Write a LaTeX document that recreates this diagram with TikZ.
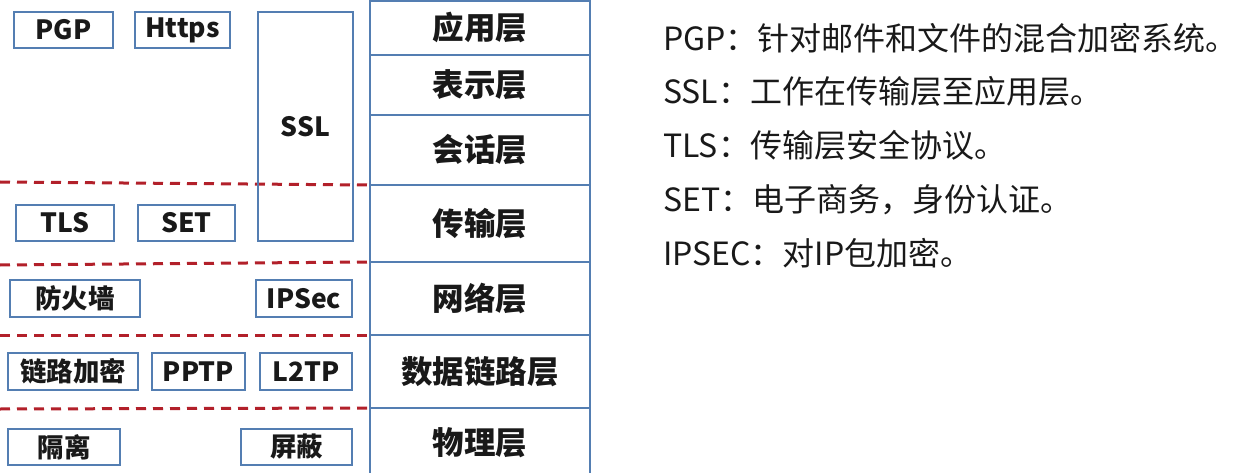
\documentclass[tikz,border=0pt]{standalone}
\usepackage{fontspec}
\setmainfont{Noto Sans CJK SC}
\usepackage{xcolor}
\usetikzlibrary{positioning}
\definecolor{boxblue}{RGB}{84,126,178}
\definecolor{dashred}{RGB}{178,32,42}
\definecolor{inkgray}{RGB}{25,25,25}

\begin{document}
\begin{tikzpicture}[x=1pt, y=-1pt,
    tagbox/.style={draw=boxblue, line width=1.8pt, inner sep=0pt,
      font=\fontsize{26.5}{28}\selectfont\bfseries, text=inkgray},
    layer/.style={draw=boxblue, line width=1.8pt, minimum width=220pt, inner sep=0pt,
      outer sep=0pt, font=\fontsize{31.5}{34}\selectfont\bfseries, text=inkgray},
    divider/.style={draw=dashred, line width=3pt, dash pattern=on 10pt off 7pt},
    note/.style={anchor=west, inner sep=0pt, font=\fontsize{32}{35}\selectfont, text=inkgray}]
  \useasboundingbox (0,0) rectangle (1242,473);
  \clip (0,0) rectangle (1242,473);
  % OSI layers
  \node[layer, minimum height=54pt, anchor=north] (app) at (480,1) {应用层};
  \node[layer, minimum height=60pt, below=0pt of app] (pres) {表示层};
  \node[layer, minimum height=70pt, below=0pt of pres] (sess) {会话层};
  \node[layer, minimum height=77pt, below=0pt of sess] (trans) {传输层};
  \node[layer, minimum height=73pt, below=0pt of trans] (net) {网络层};
  \node[layer, minimum height=73pt, below=0pt of net] (link) {数据链路层};
  \node[layer, minimum height=70pt, below=0pt of link] (phys) {物理层};
  % dashed dividers
  \coordinate (d1) at (0,182);
  \coordinate (d2) at (0,265);
  \coordinate (d3) at (0,335);
  \coordinate (d4) at (0,409);
  \draw[divider] (d1) -- (trans.north west);
  \draw[divider] (d2) -- (net.north west);
  \draw[divider] (d3) -- (link.north west);
  \draw[divider] (d4) -- (phys.north west);
  % protocols
  \node[tagbox, minimum width=99pt, minimum height=36pt] (pgp) at (63.5,30) {PGP};
  \node[tagbox, minimum width=95pt, minimum height=36pt] (https) at (182.5,30) {Https};
  \node[tagbox, minimum width=95pt, minimum height=229pt] (ssl) at (305.5,126.5) {SSL};
  \node[tagbox, minimum width=98pt, minimum height=36pt] (tls) at (65,223) {TLS};
  \node[tagbox, minimum width=97pt, minimum height=36pt] (set) at (186.5,223) {SET};
  \node[tagbox, minimum width=130pt, minimum height=37pt] (fw) at (75,298.5) {防火墙};
  \node[tagbox, minimum width=96pt, minimum height=37pt] (ipsec) at (304,298.5) {IPSec};
  \node[tagbox, minimum width=130pt, minimum height=37pt] (linkenc) at (73,371.5) {链路加密};
  \node[tagbox, minimum width=93pt, minimum height=37pt] (pptp) at (198.5,371.5) {PPTP};
  \node[tagbox, minimum width=92pt, minimum height=37pt] (ltp) at (306,371.5) {L2TP};
  \node[tagbox, minimum width=112pt, minimum height=36pt] (iso) at (64,447) {隔离};
  \node[tagbox, minimum width=111pt, minimum height=36pt] (shield) at (296.5,447) {屏蔽};
  % notes
  \foreach \i/\txt in {1/{PGP：针对邮件和文件的混合加密系统。}, 2/{SSL：工作在传输层至应用层。},
      3/{TLS：传输层安全协议。}, 4/{SET：电子商务，身份认证。}, 5/{IPSEC：对IP包加密。}}
    \node[note] (note\i) at (663,{38+(\i-1)*53.8}) {\txt};
\end{tikzpicture}
\end{document}
